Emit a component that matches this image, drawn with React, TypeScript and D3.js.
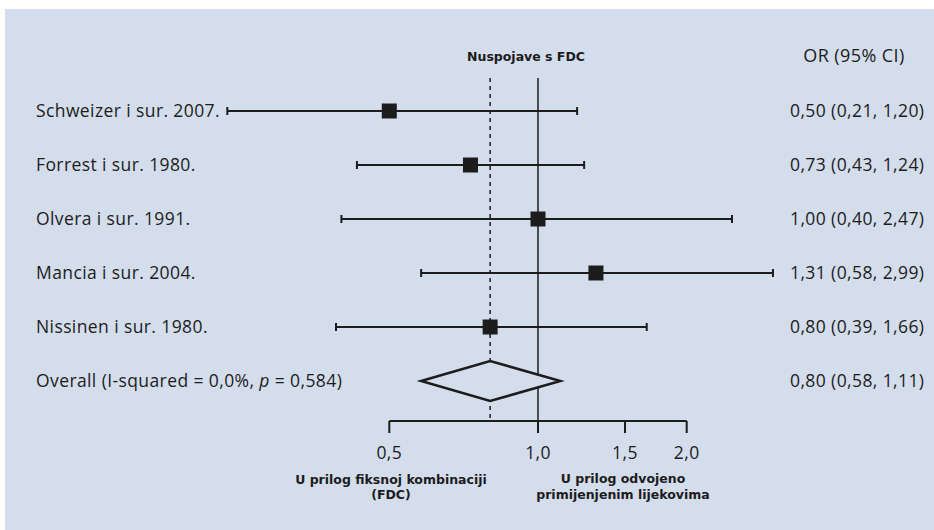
import React, { useEffect } from "react";
import { scaleLog, scaleLinear } from "d3";

// studies, top to bottom
const studies = [
  "Schweizer i sur. 2007.",
  "Forrest i sur. 1980.",
  "Olvera i sur. 1991.",
  "Mancia i sur. 2004.",
  "Nissinen i sur. 1980.",
];
const estimates = [0.5, 0.73, 1.0, 1.31, 0.8];
const lower = [0.21, 0.43, 0.4, 0.58, 0.39];
const upper = [1.2, 1.24, 2.47, 2.99, 1.66];
const ciLabels = [
  "0,50 (0,21, 1,20)",
  "0,73 (0,43, 1,24)",
  "1,00 (0,40, 2,47)",
  "1,31 (0,58, 2,99)",
  "0,80 (0,39, 1,66)",
];

// pooled result
const overallLabel = "Overall (I-squared = 0,0%, ";
const overallP = "p";
const overallTail = " = 0,584)";
const overall = { est: 0.8, lo: 0.58, hi: 1.11 };
const overallCi = "0,80 (0,58, 1,11)";

const tickValues = [0.5, 1.0, 1.5, 2.0];
const tickLabels = ["0,5", "1,0", "1,5", "2,0"];

const W = 934;
const H = 530;
const BG = "#d4ddec";
const INK = "#1c1c1c";
const labelFont = "'Open Sans', Lato, sans-serif";
const boldFont = "'DejaVu Sans', sans-serif";
const fs = 17.5;
const ls = 0.4;

const App = () => {
  useEffect(() => {
    document.body.style.margin = "0";
    document.documentElement.style.overflow = "hidden";
  }, []);

  // log scale for odds ratios
  const x = scaleLog().domain([0.5, 2]).range([389.3, 686.7]);
  const clipLow = 0.235; // lines stop at the label column
  const xc = (v: number) => x(Math.max(v, clipLow));

  const nRows = studies.length + 1;
  const y = scaleLinear().domain([0, nRows - 1]).range([111, 381]);

  const axisY = 421;
  const topY = 78;
  const cap = 4;
  const sq = 15;

  const txt = { fontFamily: labelFont, fontSize: fs, letterSpacing: ls, fill: INK };
  const bold = { fontFamily: boldFont, fontWeight: "bold", fontSize: 12.5, fill: INK, textAnchor: "middle" as const };

  return (
    <svg width={W} height={H} style={{ display: "block", position: "fixed", left: 0, top: 0 }}>
      <rect x={0} y={0} width={W} height={H} fill="#ffffff" />
      <rect x={5} y={9} width={W} height={H} fill={BG} />

      {/* headers */}
      <text x={526} y={60.5} {...bold}>
        Nuspojave s FDC
      </text>
      <text x={854} y={62} textAnchor="middle" {...txt} fontSize={18}>
        OR (95% CI)
      </text>

      {/* reference lines */}
      <line x1={x(1)} x2={x(1)} y1={topY} y2={axisY} stroke={INK} strokeWidth={1.5} />
      <line
        x1={x(overall.est)}
        x2={x(overall.est)}
        y1={topY}
        y2={axisY}
        stroke={INK}
        strokeWidth={1.5}
        strokeDasharray="4 4"
      />

      {/* studies */}
      {studies.map((s, i) => {
        const yy = y(i);
        const x0 = xc(lower[i]);
        const x1 = xc(upper[i]);
        const xe = x(estimates[i]);
        return (
          <g key={s}>
            <text x={36} y={yy + 6} {...txt}>
              {s}
            </text>
            <line x1={x0} x2={x1} y1={yy} y2={yy} stroke={INK} strokeWidth={2} />
            <line x1={x0} x2={x0} y1={yy - cap} y2={yy + cap} stroke={INK} strokeWidth={2} />
            <line x1={x1} x2={x1} y1={yy - cap} y2={yy + cap} stroke={INK} strokeWidth={2} />
            <rect x={xe - sq / 2} y={yy - sq / 2} width={sq} height={sq} fill={INK} />
            <text x={790} y={yy + 6} {...txt}>
              {ciLabels[i]}
            </text>
          </g>
        );
      })}

      {/* overall diamond */}
      {(() => {
        const yy = y(nRows - 1);
        const h = 20;
        const pts = [
          [x(overall.lo), yy],
          [x(overall.est), yy - h],
          [x(overall.hi), yy],
          [x(overall.est), yy + h],
        ]
          .map((p) => p.join(","))
          .join(" ");
        return (
          <g>
            <polygon points={pts} fill={BG} stroke={INK} strokeWidth={2.5} strokeLinejoin="miter" />
            <text x={36} y={yy + 6} {...txt}>
              {overallLabel}
              <tspan fontStyle="italic">{overallP}</tspan>
              {overallTail}
            </text>
            <text x={790} y={yy + 6} {...txt}>
              {overallCi}
            </text>
          </g>
        );
      })()}

      {/* x axis */}
      <line x1={x(0.5)} x2={x(2)} y1={axisY} y2={axisY} stroke={INK} strokeWidth={2} />
      {tickValues.map((t, i) => (
        <g key={t}>
          <line x1={x(t)} x2={x(t)} y1={axisY} y2={axisY + 12} stroke={INK} strokeWidth={2} />
          <text x={x(t)} y={axisY + 38} textAnchor="middle" {...txt}>
            {tickLabels[i]}
          </text>
        </g>
      ))}

      {/* direction labels */}
      <text x={391} y={483.5} {...bold}>
        U prilog fiksnoj kombinaciji
      </text>
      <text x={391} y={499} {...bold}>
        (FDC)
      </text>
      <text x={623} y={483} {...bold}>
        U prilog odvojeno
      </text>
      <text x={623} y={498.5} {...bold}>
        primijenjenim lijekovima
      </text>
    </svg>
  );
};

export default App;
